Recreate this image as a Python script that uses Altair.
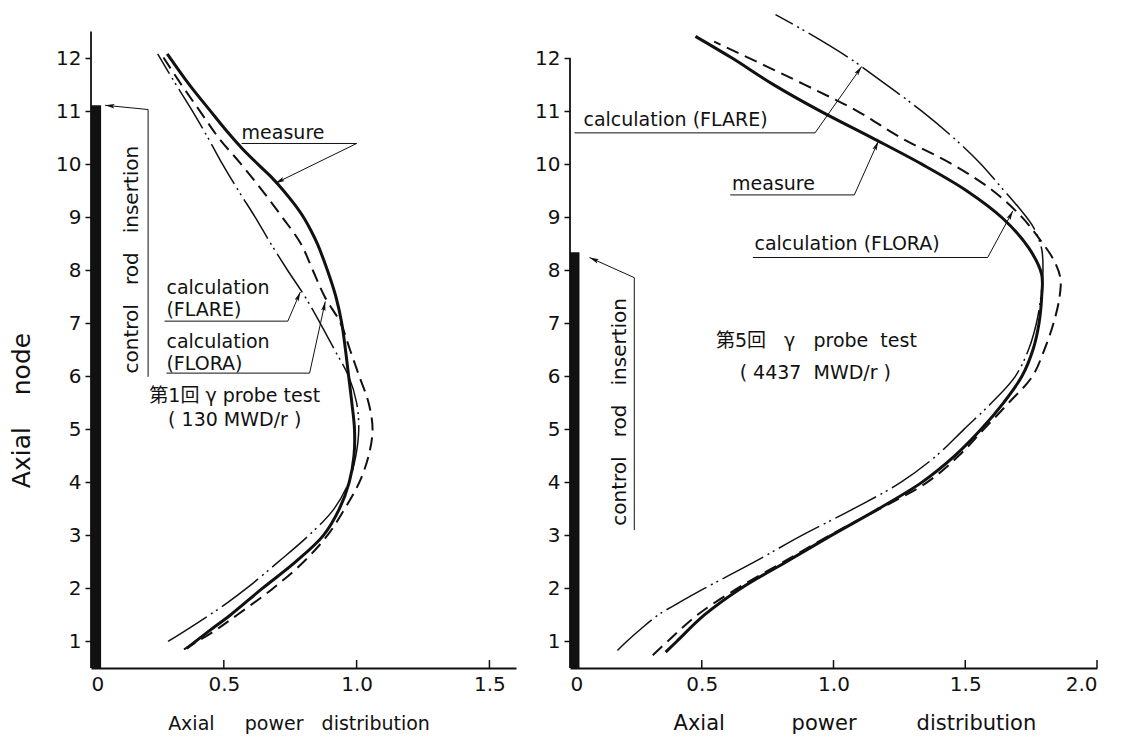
import math
import altair as alt
import pandas as pd

FONT = "DejaVu Sans"
CJK_FONT = "DejaVu Sans, Noto Sans CJK JP"
INK = "#111111"
NB = "\u00a0"

Y_MIN, Y_MAX = 0.5, 12.85
Y_TICKS = list(range(1, 13))
H = 655

# ---------------- left panel: 1st gamma probe test (130 MWD/r) ----------------
L_X_MAX = 1.6
L_X_TICKS = [0, 0.5, 1.0, 1.5]
L_INNER_TICKS = [0.5, 1.0, 1.5]
L_ROD_TOP = 11.11

L_MEAS_Y = [0.87, 1.2, 1.5, 2.0, 2.5, 3.0, 3.5, 4.0, 4.5, 5.0, 5.5, 6.0, 6.5, 7.0, 7.5, 8.0, 8.5, 8.75, 9.0, 9.25, 9.5, 9.75, 10.0, 10.3, 10.6, 11.0, 11.5, 12.08]
L_MEAS_X = [0.36, 0.445, 0.525, 0.645, 0.77, 0.875, 0.935, 0.972, 0.99, 0.992, 0.982, 0.97, 0.958, 0.944, 0.922, 0.89, 0.852, 0.828, 0.80, 0.765, 0.725, 0.68, 0.628, 0.568, 0.515, 0.45, 0.37, 0.287]

L_FLORA_Y = [0.85, 1.2, 1.5, 2.0, 2.5, 3.0, 3.5, 4.0, 4.5, 5.0, 5.5, 6.0, 6.5, 7.0, 7.5, 8.0, 8.5, 9.0, 9.5, 10.0, 10.5, 11.0, 11.5, 12.08]
L_FLORA_X = [0.35, 0.465, 0.55, 0.685, 0.80, 0.89, 0.955, 1.01, 1.045, 1.06, 1.045, 1.01, 0.975, 0.94, 0.88, 0.835, 0.79, 0.72, 0.645, 0.565, 0.48, 0.41, 0.34, 0.264]

L_FLARE_Y = [1.0, 1.3, 1.7, 2.0, 2.5, 3.0, 3.5, 4.0, 4.5, 5.0, 5.5, 6.0, 6.5, 7.0, 7.5, 8.0, 8.5, 9.0, 9.5, 10.0, 10.5, 11.0, 11.5, 12.08]
L_FLARE_X = [0.29, 0.385, 0.505, 0.585, 0.705, 0.82, 0.915, 0.97, 0.997, 1.008, 1.0, 0.97, 0.917, 0.863, 0.806, 0.74, 0.677, 0.618, 0.555, 0.495, 0.44, 0.382, 0.32, 0.251]

L_LEADERS = {
    "measure": [(0.567, 10.39), (1.0, 10.39), (0.694, 9.64)],
    "flare": [(0.277, 7.04), (0.741, 7.04), (0.788, 7.59)],
    "flora": [(0.284, 6.06), (0.823, 6.06), (0.882, 7.41)],
    "rod": [(0.215, 5.99), (0.215, 11.03), (0.053, 11.11)],
}
L_LEFT_TEXTS = [
    ("measure", 0.567, 10.47),
    ("calculation", 0.284, 7.56),
    ("(FLARE)", 0.284, 7.13),
    ("calculation", 0.284, 6.54),
    ("(FLORA)", 0.284, 6.12),
]
L_CENTER_TEXTS = [
    ("第1回 γ probe test", 0.541, 5.62),
    ("( 130 MWD/r )", 0.541, 5.18),
]
L_ROT_TEXT = ("control" + NB * 3 + "rod" + NB * 3 + "insertion", 0.156, 8.2)

# ---------------- right panel: 5th gamma probe test (4437 MWD/r) ----------------
R_X_MAX = 2.0
R_X_TICKS = [0, 0.5, 1.0, 1.5, 2.0]
R_INNER_TICKS = [0.5, 1.0, 1.5, 2.0]
R_ROD_TOP = 8.34

R_MEAS_Y = [0.8, 1.0, 1.5, 2.0, 2.5, 3.0, 3.5, 4.0, 4.5, 5.0, 5.5, 6.0, 6.5, 7.0, 7.5, 7.92, 8.42, 8.98, 9.5, 10.0, 10.5, 11.0, 11.5, 12.0, 12.41]
R_MEAS_X = [0.363, 0.405, 0.51, 0.648, 0.82, 0.992, 1.17, 1.335, 1.46, 1.56, 1.645, 1.715, 1.757, 1.78, 1.79, 1.79, 1.741, 1.642, 1.505, 1.335, 1.145, 0.95, 0.772, 0.615, 0.476]

R_FLORA_Y = [0.74, 1.0, 1.5, 2.0, 2.5, 3.0, 3.5, 4.0, 4.5, 5.0, 5.5, 6.0, 6.5, 7.0, 7.5, 7.85, 8.2, 8.6, 9.0, 9.5, 10.0, 10.5, 11.0, 11.5, 12.31]
R_FLORA_X = [0.314, 0.37, 0.483, 0.635, 0.81, 0.985, 1.175, 1.355, 1.475, 1.57, 1.665, 1.755, 1.80, 1.835, 1.858, 1.861, 1.835, 1.78, 1.715, 1.605, 1.45, 1.255, 1.09, 0.89, 0.547]

R_FLARE_Y = [0.83, 1.0, 1.25, 1.5, 1.75, 2.0, 2.5, 3.0, 3.5, 4.0, 4.5, 5.0, 5.5, 6.0, 6.5, 7.0, 7.5, 8.0, 8.4, 8.8, 9.2, 9.6, 10.0, 10.5, 11.0, 11.5, 12.0, 12.4, 12.82]
R_FLARE_X = [0.18, 0.215, 0.272, 0.335, 0.42, 0.51, 0.70, 0.88, 1.075, 1.255, 1.39, 1.495, 1.60, 1.69, 1.74, 1.77, 1.787, 1.795, 1.79, 1.76, 1.70, 1.63, 1.56, 1.455, 1.335, 1.2, 1.06, 0.93, 0.78]

R_LEADERS = {
    "flare": [(0.017, 10.59), (0.93, 10.59), (1.107, 11.84)],
    "measure": [(0.608, 9.42), (1.079, 9.42), (1.17, 10.43)],
    "flora": [(0.694, 8.24), (1.585, 8.24), (1.681, 9.12)],
    "rod": [(0.244, 3.1), (0.244, 7.86), (0.074, 8.24)],
}
R_LEFT_TEXTS = [
    ("calculation (FLARE)", 0.051, 10.71),
    ("measure", 0.615, 9.52),
    ("calculation (FLORA)", 0.70, 8.39),
]
R_CENTER_TEXTS = [
    ("第5回" + NB * 3 + "γ" + NB * 3 + "probe" + NB * 2 + "test", 0.935, 6.67),
    ("( 4437" + NB * 2 + "MWD/r )", 0.931, 6.07),
]
R_ROT_TEXT = ("control" + NB * 3 + "rod" + NB * 3 + "insertion", 0.188, 5.33)

ARROW = "M0,0L-0.42,1.8L0,1.45L0.42,1.8Z"


def curve_df(xs, ys):
    return pd.DataFrame({"x": xs, "y": ys, "i": list(range(len(xs)))})


def make_panel(w, x_max, x_ticks, inner_ticks, y_axis_top, rod_w, rod_top,
               meas, flora, flare, leaders, left_texts, center_texts, rot_text,
               x_title, x_title_x, x_title_size, y_title=None):
    xs = alt.Scale(domain=[0, x_max], nice=False, zero=False)
    ys = alt.Scale(domain=[Y_MIN, Y_MAX], nice=False, zero=False)
    kx = w / x_max
    ky = H / (Y_MAX - Y_MIN)

    x_axis = alt.Axis(values=x_ticks,
                      labelExpr="datum.value == 0 ? '0' : format(datum.value, '.1f')",
                      ticks=False, tickSize=0, domainWidth=2, domainColor=INK,
                      labelFont=FONT, labelFontSize=20, labelColor=INK, labelPadding=6,
                      grid=False, title=x_title, titleFont=FONT, titleFontSize=x_title_size,
                      titleFontWeight="normal", titleColor=INK, titleX=x_title_x, titleY=55,
                      titleAlign="center", titleBaseline="middle")
    if y_title:
        y_axis = alt.Axis(values=Y_TICKS, format="d", domain=False, tickSize=6, tickWidth=1.5,
                          tickColor=INK, labelFont=FONT, labelFontSize=20, labelColor=INK,
                          labelPadding=4, grid=False, title=y_title, titleFont=FONT,
                          titleFontSize=25, titleFontWeight="normal", titleColor=INK,
                          titleAngle=270, titleAlign="center", titleBaseline="middle",
                          titleX=-69.5, titleY=397)
    else:
        y_axis = alt.Axis(values=Y_TICKS, format="d", domain=False, tickSize=6, tickWidth=1.5,
                          tickColor=INK, labelFont=FONT, labelFontSize=20, labelColor=INK,
                          labelPadding=4, grid=False, title=None)

    def X(f):
        return alt.X(f, type="quantitative", scale=xs, axis=x_axis)

    def Y(f):
        return alt.Y(f, type="quantitative", scale=ys, axis=y_axis)

    layers = []
    rod_df = pd.DataFrame({"x": [0], "x2": [rod_w], "y": [Y_MIN], "y2": [rod_top]})
    layers.append(alt.Chart(rod_df).mark_rect(color=INK).encode(
        x=X("x"), x2="x2", y=Y("y"), y2="y2"))

    yline = pd.DataFrame({"x": [0], "y": [Y_MIN], "y2": [y_axis_top]})
    layers.append(alt.Chart(yline).mark_rule(color=INK, strokeWidth=1.8).encode(
        x=X("x"), y=Y("y"), y2="y2"))

    tick_df = pd.DataFrame({"x": inner_ticks, "y": [Y_MIN] * len(inner_ticks),
                            "y2": [Y_MIN + 0.15] * len(inner_ticks)})
    layers.append(alt.Chart(tick_df).mark_rule(color=INK, strokeWidth=1.5).encode(
        x=X("x"), y=Y("y"), y2="y2"))

    layers.append(alt.Chart(curve_df(*flare)).mark_line(
        color=INK, strokeWidth=1.5, strokeDash=[46, 5, 2, 4, 2, 5],
        interpolate="catmull-rom").encode(x=X("x"), y=Y("y"), order="i:Q"))
    layers.append(alt.Chart(curve_df(*flora)).mark_line(
        color=INK, strokeWidth=2, strokeDash=[13, 7],
        interpolate="catmull-rom").encode(x=X("x"), y=Y("y"), order="i:Q"))
    layers.append(alt.Chart(curve_df(*meas)).mark_line(
        color=INK, strokeWidth=3, interpolate="catmull-rom").encode(
        x=X("x"), y=Y("y"), order="i:Q"))

    rows, heads = [], []
    for name, pts in leaders.items():
        for i, (px, py) in enumerate(pts):
            rows.append({"id": name, "i": i, "x": px, "y": py})
        (x0, y0), (x1, y1) = pts[-2], pts[-1]
        dxp = (x1 - x0) * kx
        dyd = (y1 - y0) * ky
        ang = math.degrees(math.atan2(dxp, dyd)) % 360
        heads.append({"x": x1, "y": y1, "ang": ang})
    layers.append(alt.Chart(pd.DataFrame(rows)).mark_line(color=INK, strokeWidth=1).encode(
        x=X("x"), y=Y("y"), detail="id:N", order="i:Q"))
    layers.append(alt.Chart(pd.DataFrame(heads)).mark_point(
        shape=ARROW, filled=True, size=110, color=INK, opacity=1, strokeWidth=0).encode(
        x=X("x"), y=Y("y"), angle=alt.Angle("ang:Q", scale=None)))

    lt = pd.DataFrame(left_texts, columns=["text", "x", "y"])
    layers.append(alt.Chart(lt).mark_text(
        align="left", baseline="alphabetic", font=FONT, fontSize=19, color=INK).encode(
        x=X("x"), y=Y("y"), text="text:N"))
    ct = pd.DataFrame(center_texts, columns=["text", "x", "y"])
    layers.append(alt.Chart(ct).mark_text(
        align="center", baseline="middle", font=CJK_FONT, fontSize=19, color=INK).encode(
        x=X("x"), y=Y("y"), text="text:N"))
    rt = pd.DataFrame([rot_text], columns=["text", "x", "y"])
    layers.append(alt.Chart(rt).mark_text(
        align="center", baseline="middle", angle=270, font=FONT, fontSize=20, color=INK).encode(
        x=X("x"), y=Y("y"), text="text:N"))

    return alt.layer(*layers).properties(width=w, height=H)


left = make_panel(
    425, L_X_MAX, L_X_TICKS, L_INNER_TICKS, 12.5, 0.038, L_ROD_TOP,
    (L_MEAS_X, L_MEAS_Y), (L_FLORA_X, L_FLORA_Y), (L_FLARE_X, L_FLARE_Y),
    L_LEADERS, L_LEFT_TEXTS, L_CENTER_TEXTS, L_ROT_TEXT,
    "Axial" + NB * 5 + "power" + NB * 3 + "distribution", 207.5, 19,
    y_title="Axial" + NB * 4 + "node")

right = make_panel(
    527, R_X_MAX, R_X_TICKS, R_INNER_TICKS, 12.0, 0.036, R_ROD_TOP,
    (R_MEAS_X, R_MEAS_Y), (R_FLORA_X, R_FLORA_Y), (R_FLARE_X, R_FLARE_Y),
    R_LEADERS, R_LEFT_TEXTS, R_CENTER_TEXTS, R_ROT_TEXT,
    "Axial" + NB * 10 + "power" + NB * 9 + "distribution", 284.4, 21)

chart = alt.hconcat(left, right, spacing=18).properties(
    padding={"left": 1, "top": 3, "right": 5, "bottom": 5},
    background="white",
).configure_view(stroke=None)

chart.save("out.html", embed_options={"renderer": "svg", "actions": False})
